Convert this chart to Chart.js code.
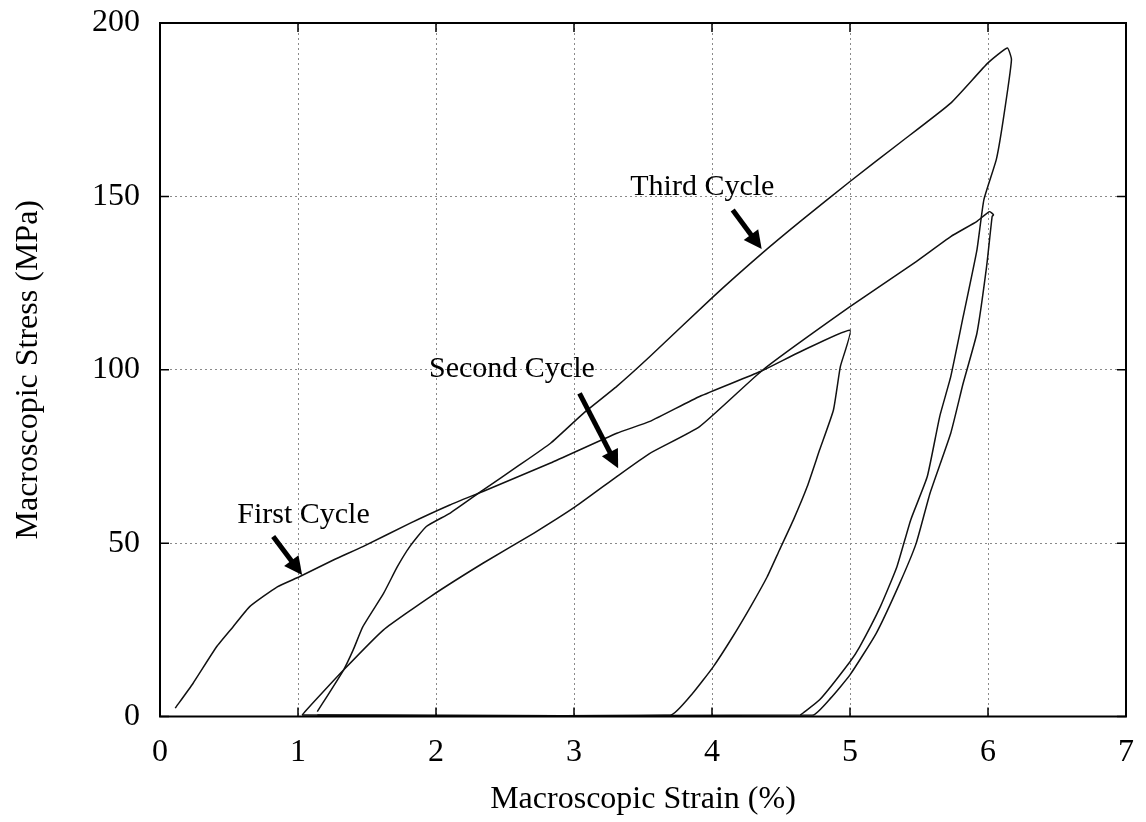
<!DOCTYPE html>
<html>
<head>
<meta charset="utf-8">
<script src="https://cdn.jsdelivr.net/npm/chart.js@4.4.1/dist/chart.umd.min.js"></script>
<style>
  body { margin: 0; background: #fff; }
  canvas { display: block; }
</style>
</head>
<body>
<canvas id="stress-strain-chart" width="1146" height="822"></canvas>
<script>
// Loading / unloading paths, strain in %, stress in MPa
const cycle1Strain = [0.11, 0.24, 0.41, 0.53, 0.65, 0.85, 1.01, 1.26, 1.47, 1.81, 2.10, 2.34, 2.83, 3.31, 3.55, 3.91, 4.35, 4.64, 5.00, 4.93, 4.88, 4.78, 4.69, 4.59, 4.49, 4.40, 4.28, 4.15, 4.01, 3.86, 3.70, 1.03];
const cycle1Stress = [2.4, 9.6, 20.1, 25.9, 31.7, 37.4, 40.3, 45.2, 49.0, 55.7, 61.0, 64.9, 73.1, 81.7, 85.1, 92.3, 99.5, 105.2, 111.4, 100.9, 88.4, 76.9, 66.3, 56.7, 48.1, 40.3, 31.7, 23.0, 14.4, 6.7, 0.4, 0.4];

const cycle2Strain = [1.03, 1.05, 1.33, 1.62, 1.96, 2.34, 2.71, 3.01, 3.31, 3.55, 3.91, 4.37, 5.00, 5.48, 5.73, 5.92, 6.01, 6.04, 6.03, 5.99, 5.92, 5.82, 5.73, 5.58, 5.48, 5.36, 5.19, 5.00, 4.86, 4.73, 1.14];
const cycle2Stress = [0.4, 1.4, 13.4, 25.0, 34.6, 44.2, 52.9, 60.5, 69.2, 75.9, 83.6, 100.0, 118.2, 131.2, 138.4, 142.8, 145.6, 144.7, 144.2, 129.8, 110.6, 96.1, 81.7, 64.4, 50.0, 38.4, 24.0, 12.0, 5.3, 0.4, 0.4];

const cycle3Strain = [1.14, 1.33, 1.40, 1.47, 1.62, 1.72, 1.81, 1.93, 2.10, 2.34, 2.59, 2.83, 3.07, 3.31, 3.55, 4.01, 4.36, 4.64, 5.00, 5.36, 5.73, 6.00, 6.14, 6.17, 6.11, 6.06, 5.97, 5.92, 5.82, 5.73, 5.65, 5.56, 5.44, 5.34, 5.22, 5.07, 5.00, 4.78, 4.66, 4.64];
const cycle3Stress = [1.4, 13.4, 19.2, 25.9, 35.5, 43.2, 49.0, 54.8, 58.6, 65.3, 72.1, 78.8, 87.5, 95.2, 103.8, 121.1, 133.5, 142.8, 154.3, 165.4, 176.9, 188.5, 192.8, 189.4, 172.0, 160.6, 149.0, 134.6, 115.3, 98.0, 86.5, 69.2, 56.7, 43.2, 31.7, 20.1, 15.8, 4.8, 1.0, 0.4];

const strainTicks = [0, 1, 2, 3, 4, 5, 6, 7];
const stressTicks = [0, 50, 100, 150, 200];

// Callout labels and their arrows, in data units
const noteLabels = ["First Cycle", "Second Cycle", "Third Cycle"];
const noteTextAt = [[1.04, 55.8], [2.55, 97.9], [3.93, 150.5]];
const arrowTail = [[0.82, 51.9], [3.04, 93.2], [4.15, 146.1]];
const arrowTip = [[1.03, 40.8], [3.32, 71.6], [4.36, 134.8]];

const SERIF = "'Liberation Serif', 'Times New Roman', serif";

function toPoints(xs, ys) {
  return xs.map((v, i) => ({ x: v, y: ys[i] }));
}

function pathStyle(label, xs, ys) {
  return {
    label: label,
    data: toPoints(xs, ys),
    showLine: true,
    borderColor: "#111",
    borderWidth: 1.5,
    pointRadius: 0,
    tension: 0.15,
    fill: false,
  };
}

// White background, boxed frame with inward ticks, and the callouts
const frameAndNotes = {
  id: "frameAndNotes",
  beforeDraw(chart) {
    const ctx = chart.ctx;
    ctx.save();
    ctx.fillStyle = "#fff";
    ctx.fillRect(0, 0, chart.width, chart.height);
    ctx.restore();
  },
  afterDatasetsDraw(chart) {
    const { ctx, chartArea: a, scales } = chart;
    const xs = scales.x, ys = scales.y;
    ctx.save();
    ctx.strokeStyle = "#000";
    ctx.lineWidth = 1.5;
    ctx.beginPath();
    strainTicks.forEach((v) => {
      const px = xs.getPixelForValue(v);
      ctx.moveTo(px, a.bottom); ctx.lineTo(px, a.bottom - 9);
      ctx.moveTo(px, a.top); ctx.lineTo(px, a.top + 9);
    });
    stressTicks.forEach((v) => {
      const py = ys.getPixelForValue(v);
      ctx.moveTo(a.left, py); ctx.lineTo(a.left + 9, py);
      ctx.moveTo(a.right, py); ctx.lineTo(a.right - 9, py);
    });
    ctx.stroke();
    ctx.lineWidth = 2;
    ctx.strokeRect(a.left, a.top, a.right - a.left, a.bottom - a.top);

    // callout text
    ctx.fillStyle = "#000";
    ctx.font = "30px " + SERIF;
    ctx.textAlign = "center";
    ctx.textBaseline = "alphabetic";
    noteLabels.forEach((t, i) => {
      ctx.fillText(t, xs.getPixelForValue(noteTextAt[i][0]), ys.getPixelForValue(noteTextAt[i][1]));
    });

    // arrows
    const headLen = 18, headHalf = 9;
    arrowTail.forEach((tail, i) => {
      const x0 = xs.getPixelForValue(tail[0]), y0 = ys.getPixelForValue(tail[1]);
      const x1 = xs.getPixelForValue(arrowTip[i][0]), y1 = ys.getPixelForValue(arrowTip[i][1]);
      const len = Math.hypot(x1 - x0, y1 - y0);
      const ux = (x1 - x0) / len, uy = (y1 - y0) / len;
      const bx = x1 - ux * headLen, by = y1 - uy * headLen;
      ctx.lineWidth = 5;
      ctx.lineCap = "butt";
      ctx.beginPath();
      ctx.moveTo(x0, y0);
      ctx.lineTo(bx + ux, by + uy);
      ctx.stroke();
      ctx.beginPath();
      ctx.moveTo(x1, y1);
      ctx.lineTo(bx - uy * headHalf, by + ux * headHalf);
      ctx.lineTo(bx + uy * headHalf, by - ux * headHalf);
      ctx.closePath();
      ctx.fill();
    });
    ctx.restore();
  },
};

const ctx = document.getElementById("stress-strain-chart").getContext("2d");

new Chart(ctx, {
  type: "scatter",
  data: {
    datasets: [
      pathStyle("First Cycle", cycle1Strain, cycle1Stress),
      pathStyle("Second Cycle", cycle2Strain, cycle2Stress),
      pathStyle("Third Cycle", cycle3Strain, cycle3Stress),
    ],
  },
  options: {
    responsive: false,
    animation: false,
    layout: { padding: { top: 23, right: 20, left: 0, bottom: 0 } },
    plugins: {
      legend: { display: false },
      tooltip: { enabled: false },
    },
    scales: {
      x: {
        type: "linear",
        min: strainTicks[0],
        max: strainTicks[strainTicks.length - 1],
        afterBuildTicks: (s) => { s.ticks = strainTicks.map((v) => ({ value: v })); },
        afterFit: (s) => {
          s.height = 105.5;
          s.paddingLeft = 0;
          s.paddingRight = 0;
        },
        grid: { color: "#8a8a8a", lineWidth: 1, drawTicks: false },
        border: { display: false, dash: [2, 3] },
        ticks: {
          color: "#000",
          padding: 17,
          maxRotation: 0,
          font: { family: SERIF, size: 32 },
        },
        title: {
          display: true,
          text: "Macroscopic Strain (%)",
          color: "#000",
          font: { family: SERIF, size: 32 },
          padding: { top: 0, bottom: 3 },
        },
      },
      y: {
        type: "linear",
        min: stressTicks[0],
        max: stressTicks[stressTicks.length - 1],
        afterBuildTicks: (s) => { s.ticks = stressTicks.map((v) => ({ value: v })); },
        afterFit: (s) => {
          s.width = 160;
          s.paddingTop = 0;
          s.paddingBottom = 0;
        },
        grid: { color: "#8a8a8a", lineWidth: 1, drawTicks: false },
        border: { display: false, dash: [2, 3] },
        ticks: {
          color: "#000",
          padding: 20,
          font: { family: SERIF, size: 32 },
        },
        title: {
          display: true,
          text: "Macroscopic Stress (MPa)",
          color: "#000",
          font: { family: SERIF, size: 32 },
          padding: { top: 9, bottom: 0 },
        },
      },
    },
  },
  plugins: [frameAndNotes],
});
</script>
</body>
</html>
